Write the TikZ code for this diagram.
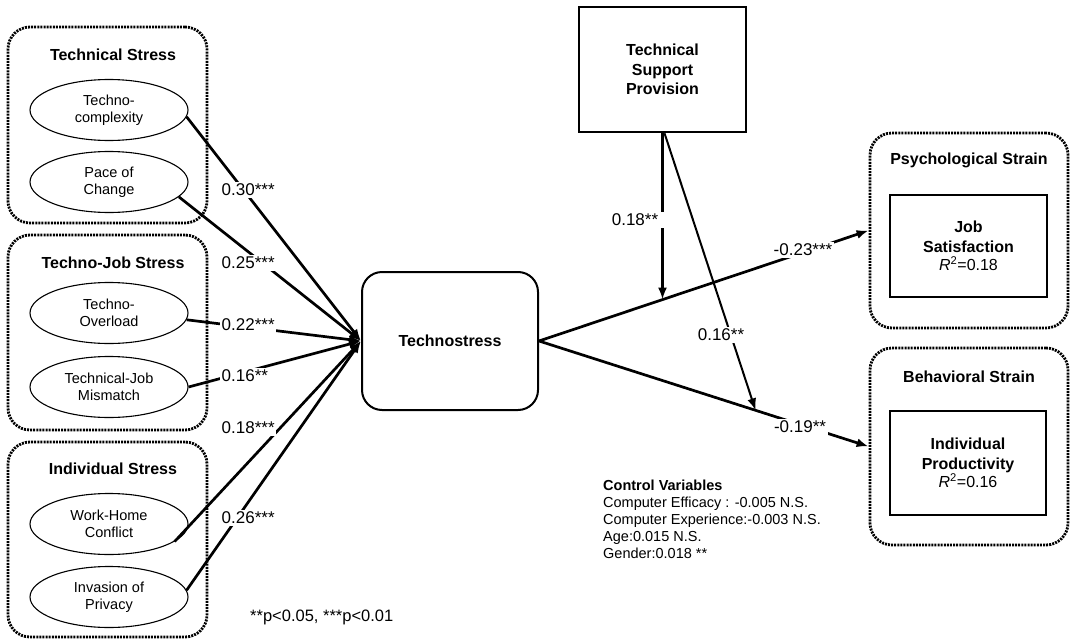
\documentclass[tikz,border=0pt]{standalone}
\usepackage{fontspec}
\setmainfont{Liberation Sans}
\usetikzlibrary{arrows.meta,shapes.geometric,calc}

\tikzset{
  group/.style={draw, line width=2.8pt, dash pattern=on 2pt off 1.1pt, rounded corners=22pt},
  heading/.style={font=\fontsize{16}{19}\selectfont\bfseries},
  factor/.style={draw, ellipse, line width=1.1pt, minimum width=158pt, minimum height=61pt,
                 inner sep=0pt, align=center, font=\fontsize{14.5}{17}\selectfont},
  construct/.style={draw, line width=2.4pt, align=center, font=\fontsize{16}{19.5}\selectfont\bfseries},
  coef/.style={fill=white, inner sep=1.5pt, font=\fontsize{17}{20}\selectfont},
  effect/.style={line width=2.7pt, -{Latex[length=12pt,width=9pt]}},
}

\begin{document}
\begin{tikzpicture}[x=1pt,y=-1pt]
    \useasboundingbox (0,0) rectangle (1070,642);

    % stressor groups
    \node[group, minimum width=199pt, minimum height=196pt] (tsg) at (107.5,125) {};
    \node[group, minimum width=199pt, minimum height=195pt] (tjg) at (107.5,332.5) {};
    \node[group, minimum width=199pt, minimum height=195pt] (isg) at (107.5,539.5) {};
    \node[heading] (tsh) at (113,55) {Technical Stress};
    \node[heading] (tjh) at (113,263) {Techno-Job Stress};
    \node[heading] (ish) at (113,469) {Individual Stress};

    \node[factor] (tc) at (109,110) {Techno-\\complexity};
    \node[factor] (pc) at (109,182) {Pace of\\Change};
    \node[factor] (to) at (109,313) {Techno-\\Overload};
    \node[factor] (tm) at (109,387) {Technical-Job\\Mismatch};
    \node[factor] (wh) at (109,524) {Work-Home\\Conflict};
    \node[factor] (ip) at (109,597) {Invasion of\\Privacy};

    % centre and moderator
    \node[construct, line width=2pt, rounded corners=20pt, minimum width=176pt, minimum height=138pt] (ts) at (450,341) {Technostress};
    \node[construct, minimum width=167pt, minimum height=125pt] (sp) at (662.5,69.5) {Technical\\Support\\Provision};

    % strain groups
    \node[group, minimum width=198pt, minimum height=195pt] (psy) at (969,230.5) {};
    \node[group, minimum width=198pt, minimum height=197pt] (bhv) at (969,446.5) {};
    \node[heading] (psh) at (969,160) {Psychological Strain};
    \node[heading] (bhh) at (969,377) {Behavioral Strain};
    \node[construct, minimum width=157pt, minimum height=102pt] (js) at (968.5,246)
        {Job\\Satisfaction\\[-1pt]{\mdseries\itshape R}{\mdseries\textsuperscript{2}=0.18}};
    \node[construct, minimum width=156pt, minimum height=104pt] (ipr) at (968,463)
        {Individual\\Productivity\\[-1pt]{\mdseries\itshape R}{\mdseries\textsuperscript{2}=0.16}};

    % paths into technostress
    \foreach \f/\a in {tc/-5,pc/-12,to/-5,tm/0,wh/-15,ip/5}
        \draw[effect] (\f.\a) -- (ts.west);
    \foreach \y/\v [count=\i] in {190/0.30***, 263/0.25***, 325/0.22***, 376/0.16**, 428/0.18***, 518/0.26***}
        \node[coef, anchor=west] (c\i) at (220,\y) {\v};

    % outcomes
    \draw[effect] (ts.east) -- (psy.west);
    \draw[effect] (ts.east) -- (bhv.west);
    \coordinate (m1) at (intersection of ts.east--psy.west and sp.south--sp.north);
    \coordinate (m2) at ($(ts.east)!0.657!(bhv.west)$);
    \draw[effect] (sp.south) -- (m1);
    \draw[effect, line width=2pt] ([xshift=2pt]sp.south) -- (m2);
    \node[coef, minimum width=62pt] (c7) at (635,220) {0.18**};
    \node[coef] (c8) at (721,335) {0.16**};
    \node[coef] (c9) at (803,250) {-0.23***};
    \node[coef] (c10) at (800,427) {-0.19**};

    % notes
    \node[anchor=north west, align=left, inner sep=0pt, font=\fontsize{14.5}{17}\selectfont] (cv) at (603,480)
        {\textbf{Control Variables}\\Computer Efficacy : -0.005 N.S.\\Computer Experience:-0.003 N.S.\\Age:0.015 N.S.\\Gender:0.018 **};
    \node[anchor=west, inner sep=0pt, font=\fontsize{16.5}{19}\selectfont] (pn) at (250,617) {**p<0.05, ***p<0.01};
\end{tikzpicture}
\end{document}
